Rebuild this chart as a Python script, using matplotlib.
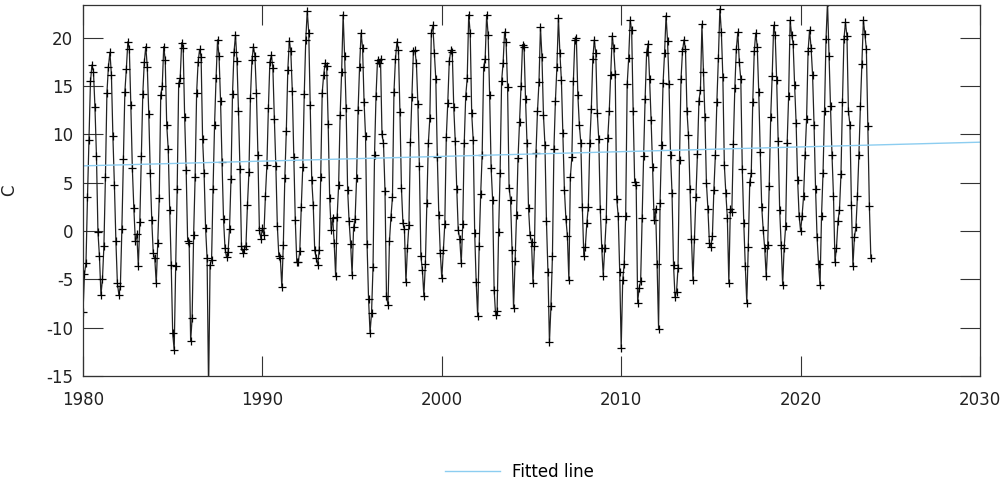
import numpy as np
import matplotlib
matplotlib.use('Agg')
import matplotlib.pyplot as plt

plt.rcParams['font.family'] = 'DejaVu Sans'
plt.rcParams['axes.unicode_minus'] = False

start_year = 1980

# monthly mean temperature, one row per year (Jan..Dec), 1980-2023
monthly_temp = [
    -8.4, -4.4, -3.3, 3.5, 9.4, 15.5, 17.2, 16.5, 12.8, 7.8, -0.1, -2.6,
    -6.6, -5.0, -1.5, 5.6, 14.3, 17.0, 18.5, 16.2, 9.8, 4.8, -1.0, -5.4,
    -6.6, -5.7, 0.2, 7.5, 14.4, 16.8, 19.6, 18.8, 13.0, 6.5, 2.4, -1.0,
    -0.3, -3.6, 0.9, 7.8, 14.2, 17.5, 19.1, 17.0, 12.1, 6.0, 1.1, -2.3,
    -2.8, -5.4, -1.2, 3.4, 14.1, 15.0, 19.1, 17.7, 11.0, 8.5, 2.2, -3.5,
    -10.6, -12.3, -3.6, 4.4, 15.3, 15.8, 19.5, 19.0, 11.8, 6.3, -1.0, -1.2,
    -11.4, -9.0, -0.4, 5.6, 14.3, 17.5, 18.8, 18.0, 9.5, 6.0, 0.3, -2.8,
    -16.5, -3.5, -3.0, 4.4, 11.0, 15.8, 19.8, 18.1, 13.5, 7.1, 1.2, -1.8,
    -2.7, -2.2, 0.2, 5.4, 14.2, 18.5, 20.3, 17.6, 12.4, 6.4, -1.5, -2.3,
    -1.9, -1.5, 2.7, 6.1, 13.8, 17.7, 19.1, 18.1, 14.3, 7.9, 0.1, -0.8,
    0.3, -0.4, 3.6, 6.8, 12.7, 17.5, 18.2, 16.9, 11.6, 6.7, 0.5, -2.6,
    -2.8, -5.8, -1.4, 5.5, 10.4, 16.7, 19.7, 18.6, 14.5, 7.7, 1.1, -3.2,
    -3.2, -2.1, 2.5, 6.6, 14.2, 19.8, 22.8, 20.5, 13.0, 5.3, 2.7, -2.0,
    -2.8, -3.5, -2.0, 5.6, 14.3, 16.2, 17.4, 17.1, 11.1, 3.4, 0.1, 1.4,
    -1.2, -4.7, 1.5, 4.8, 12.0, 16.5, 22.4, 18.1, 12.7, 4.3, 1.0, -1.3,
    -4.5, 0.4, 1.2, 5.5, 12.5, 17.0, 20.5, 19.0, 13.4, 9.8, -1.3, -7.0,
    -10.5, -8.5, -3.7, 7.9, 14.0, 17.7, 17.4, 17.8, 10.0, 9.1, 4.2, -6.7,
    -7.7, -1.0, 1.5, 3.5, 14.4, 17.8, 19.6, 18.7, 12.3, 4.5, 0.8, 0.2,
    -5.3, -1.8, 0.6, 9.2, 13.9, 18.6, 18.7, 17.4, 13.2, 6.7, -2.6, -4.0,
    -6.7, -3.4, 2.9, 9.1, 11.7, 20.5, 21.3, 18.4, 15.7, 7.7, 1.7, -2.3,
    -4.9, -2.0, 0.7, 9.7, 13.3, 17.6, 18.7, 18.5, 12.8, 9.3, 4.4, 0.1,
    -0.8, -3.3, 0.7, 9.1, 14.0, 15.8, 22.4, 20.5, 12.2, 9.4, -0.2, -5.3,
    -8.8, -1.5, 3.8, 7.9, 17.0, 17.8, 22.4, 20.3, 14.1, 6.5, 3.2, -6.1,
    -8.7, -8.3, -0.1, 6.0, 15.5, 17.4, 20.6, 19.6, 14.9, 4.5, 3.2, -2.0,
    -8.0, -3.1, 1.7, 7.6, 11.3, 15.0, 19.3, 19.1, 13.7, 9.1, 2.4, -0.4,
    -1.1, -5.4, -1.5, 8.1, 12.4, 15.4, 21.1, 18.0, 12.0, 8.9, 1.0, -4.2,
    -11.5, -7.8, -2.6, 8.5, 13.5, 17.0, 22.1, 18.4, 15.6, 10.1, 4.3, 1.3,
    -0.5, -5.1, 5.6, 7.7, 15.5, 19.8, 20.0, 14.1, 11.0, 9.1, 2.5, -2.6,
    -1.6, 0.8, 2.5, 9.1, 12.6, 17.8, 19.8, 18.4, 12.2, 9.5, 2.3, -1.8,
    -4.6, -1.8, 1.2, 9.6, 12.4, 16.2, 20.2, 18.9, 16.3, 3.3, 1.6, -4.2,
    -12.1, -5.1, -3.4, 1.6, 15.2, 17.9, 21.8, 20.8, 12.4, 5.1, 4.8, -7.4,
    -5.9, -5.2, 1.4, 7.8, 13.7, 18.5, 19.4, 15.7, 11.5, 6.6, 1.1, 2.3,
    -3.4, -10.1, 2.9, 8.9, 15.3, 18.4, 22.3, 19.7, 15.2, 7.9, 3.9, -3.5,
    -6.8, -6.3, -3.8, 7.4, 15.7, 18.6, 19.8, 18.8, 12.4, 9.9, 4.4, -0.8,
    -5.1, -0.8, 3.5, 8.0, 13.5, 14.6, 21.4, 16.5, 11.8, 5.0, 2.3, -1.2,
    -1.6, -0.5, 4.3, 7.9, 13.4, 17.9, 23.0, 20.6, 15.9, 6.8, 3.9, 1.4,
    -5.4, 2.3, 2.0, 9.0, 14.8, 18.8, 20.6, 17.5, 15.7, 6.4, 0.8, -3.6,
    -7.4, -1.6, 5.1, 6.0, 13.4, 18.6, 20.5, 19.1, 14.4, 8.2, 2.5, 0.1,
    -1.8, -4.7, -1.4, 4.7, 11.8, 16.1, 21.3, 20.3, 15.6, 9.3, 2.2, -1.4,
    -5.6, -1.7, 0.5, 9.1, 14.0, 21.8, 20.3, 19.4, 15.1, 11.2, 5.3, 1.6,
    0.0, 1.6, 3.6, 7.9, 11.6, 18.6, 20.8, 19.0, 16.2, 11.0, 4.4, -0.6,
    -3.4, -5.6, 1.6, 6.0, 12.4, 19.9, 23.7, 18.1, 12.9, 7.9, 3.6, -3.2,
    -1.7, 1.0, 2.2, 5.9, 13.4, 19.9, 21.6, 20.2, 12.4, 11.0, 2.7, -3.6,
    -0.6, 0.4, 3.6, 7.9, 12.9, 17.3, 21.8, 20.4, 18.8, 10.9, 2.6, -2.8,
]

# fitted trend line end points
fit_years = [1980, 2030]
fit_values = [6.75, 9.2]

x_ticks = [1980, 1990, 2000, 2010, 2020, 2030]
y_ticks = [-15, -10, -5, 0, 5, 10, 15, 20]

t = start_year + np.arange(len(monthly_temp)) / 12.0

fig = plt.figure(figsize=(10.05, 4.79), dpi=100)
ax = fig.add_axes([83 / 1005, 1 - 376 / 479, 897 / 1005, 371 / 479])

ax.plot(t, monthly_temp, color='#222222', lw=0.9, marker='+',
        markersize=6, markeredgewidth=0.9, markeredgecolor='black')
ax.plot(fit_years, fit_values, color='#8ccdf0', lw=1.0, label='Fitted line')

ax.set_xlim(1980, 2030)
ax.set_ylim(-15, 23.4)
ax.set_xticks(x_ticks)
ax.set_yticks(y_ticks)
ax.tick_params(direction='in', length=14.5, width=0.8, top=True, right=True,
               labelsize=12, colors='#333333', labelcolor='#222222')
ax.tick_params(axis='x', pad=11)
ax.tick_params(axis='y', pad=7)
for s in ax.spines.values():
    s.set_linewidth(0.9)
    s.set_color('#333333')

ax.set_ylabel('C', fontsize=12, color='#222222')
ax.yaxis.set_label_coords(-0.072, 0.5)

fig.legend(loc='center', bbox_to_anchor=(0.517, 0.0155), frameon=False,
           fontsize=12, handlelength=3.3, handletextpad=0.75, borderpad=0)

fig.savefig('out.png', dpi=100)
